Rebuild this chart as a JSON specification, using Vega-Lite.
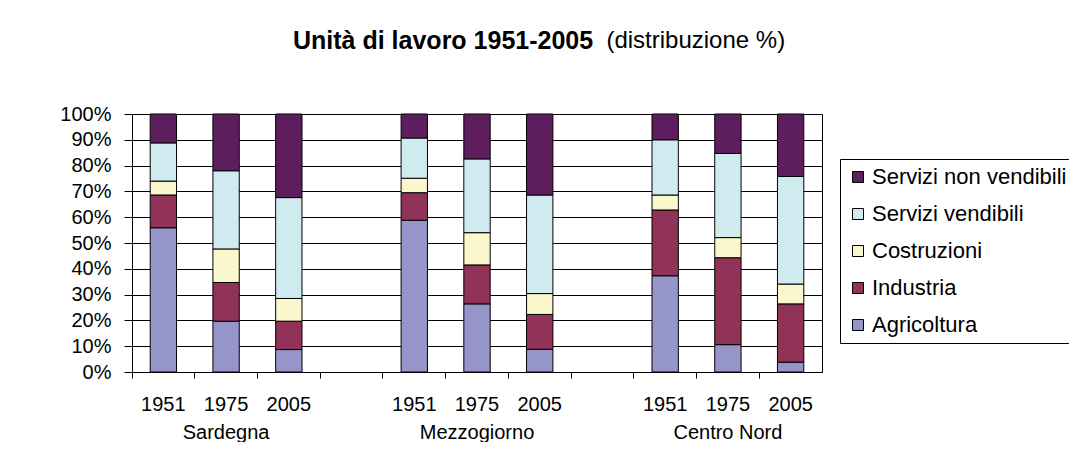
{
  "$schema": "https://vega.github.io/schema/vega-lite/v6.json",
  "width": 690,
  "height": 258,
  "padding": {"left": 59, "top": 29, "right": 0, "bottom": 0},
  "background": "white",
  "title": {
    "text": "Unità di lavoro 1951-2005",
    "subtitle": "\u200b\u00a0\u00a0\u00a0\u00a0\u00a0\u00a0\u00a0\u00a0\u00a0\u00a0\u00a0\u00a0\u00a0\u00a0\u00a0\u00a0\u00a0\u00a0\u00a0\u00a0\u00a0\u00a0\u00a0\u00a0\u00a0\u00a0\u00a0\u00a0\u00a0\u00a0\u00a0\u00a0\u00a0\u00a0\u00a0\u00a0\u00a0\u00a0\u00a0\u00a0\u00a0\u00a0\u00a0\u00a0\u00a0\u00a0\u00a0(distribuzione %)",
    "anchor": "start",
    "frame": "group",
    "dx": 161,
    "offset": 50,
    "font": "Liberation Sans",
    "fontSize": 25,
    "fontWeight": "bold",
    "color": "#000000",
    "subtitleFont": "Liberation Sans",
    "subtitleFontSize": 24,
    "subtitleFontWeight": "normal",
    "subtitleColor": "#000000",
    "subtitlePadding": -25
  },
  "data": {
    "values": [
      {"regione": "Sardegna", "anno": "1951", "settore": "Agricoltura", "valore": 55.9},
      {"regione": "Sardegna", "anno": "1951", "settore": "Industria", "valore": 12.7},
      {"regione": "Sardegna", "anno": "1951", "settore": "Costruzioni", "valore": 5.4},
      {"regione": "Sardegna", "anno": "1951", "settore": "Servizi vendibili", "valore": 14.8},
      {"regione": "Sardegna", "anno": "1951", "settore": "Servizi non vendibili", "valore": 11.2},
      {"regione": "Sardegna", "anno": "1975", "settore": "Agricoltura", "valore": 19.7},
      {"regione": "Sardegna", "anno": "1975", "settore": "Industria", "valore": 15.0},
      {"regione": "Sardegna", "anno": "1975", "settore": "Costruzioni", "valore": 13.0},
      {"regione": "Sardegna", "anno": "1975", "settore": "Servizi vendibili", "valore": 30.3},
      {"regione": "Sardegna", "anno": "1975", "settore": "Servizi non vendibili", "valore": 22.0},
      {"regione": "Sardegna", "anno": "2005", "settore": "Agricoltura", "valore": 8.7},
      {"regione": "Sardegna", "anno": "2005", "settore": "Industria", "valore": 11.0},
      {"regione": "Sardegna", "anno": "2005", "settore": "Costruzioni", "valore": 8.8},
      {"regione": "Sardegna", "anno": "2005", "settore": "Servizi vendibili", "valore": 39.1},
      {"regione": "Sardegna", "anno": "2005", "settore": "Servizi non vendibili", "valore": 32.4},
      {"regione": "Mezzogiorno", "anno": "1951", "settore": "Agricoltura", "valore": 58.8},
      {"regione": "Mezzogiorno", "anno": "1951", "settore": "Industria", "valore": 10.7},
      {"regione": "Mezzogiorno", "anno": "1951", "settore": "Costruzioni", "valore": 5.6},
      {"regione": "Mezzogiorno", "anno": "1951", "settore": "Servizi vendibili", "valore": 15.6},
      {"regione": "Mezzogiorno", "anno": "1951", "settore": "Servizi non vendibili", "valore": 9.3},
      {"regione": "Mezzogiorno", "anno": "1975", "settore": "Agricoltura", "valore": 26.4},
      {"regione": "Mezzogiorno", "anno": "1975", "settore": "Industria", "valore": 15.1},
      {"regione": "Mezzogiorno", "anno": "1975", "settore": "Costruzioni", "valore": 12.5},
      {"regione": "Mezzogiorno", "anno": "1975", "settore": "Servizi vendibili", "valore": 28.6},
      {"regione": "Mezzogiorno", "anno": "1975", "settore": "Servizi non vendibili", "valore": 17.4},
      {"regione": "Mezzogiorno", "anno": "2005", "settore": "Agricoltura", "valore": 8.8},
      {"regione": "Mezzogiorno", "anno": "2005", "settore": "Industria", "valore": 13.5},
      {"regione": "Mezzogiorno", "anno": "2005", "settore": "Costruzioni", "valore": 8.1},
      {"regione": "Mezzogiorno", "anno": "2005", "settore": "Servizi vendibili", "valore": 38.2},
      {"regione": "Mezzogiorno", "anno": "2005", "settore": "Servizi non vendibili", "valore": 31.4},
      {"regione": "Centro Nord", "anno": "1951", "settore": "Agricoltura", "valore": 37.3},
      {"regione": "Centro Nord", "anno": "1951", "settore": "Industria", "valore": 25.5},
      {"regione": "Centro Nord", "anno": "1951", "settore": "Costruzioni", "valore": 5.8},
      {"regione": "Centro Nord", "anno": "1951", "settore": "Servizi vendibili", "valore": 21.4},
      {"regione": "Centro Nord", "anno": "1951", "settore": "Servizi non vendibili", "valore": 10.0},
      {"regione": "Centro Nord", "anno": "1975", "settore": "Agricoltura", "valore": 10.6},
      {"regione": "Centro Nord", "anno": "1975", "settore": "Industria", "valore": 33.7},
      {"regione": "Centro Nord", "anno": "1975", "settore": "Costruzioni", "valore": 7.8},
      {"regione": "Centro Nord", "anno": "1975", "settore": "Servizi vendibili", "valore": 32.6},
      {"regione": "Centro Nord", "anno": "1975", "settore": "Servizi non vendibili", "valore": 15.3},
      {"regione": "Centro Nord", "anno": "2005", "settore": "Agricoltura", "valore": 3.8},
      {"regione": "Centro Nord", "anno": "2005", "settore": "Industria", "valore": 22.6},
      {"regione": "Centro Nord", "anno": "2005", "settore": "Costruzioni", "valore": 7.7},
      {"regione": "Centro Nord", "anno": "2005", "settore": "Servizi vendibili", "valore": 41.7},
      {"regione": "Centro Nord", "anno": "2005", "settore": "Servizi non vendibili", "valore": 24.2}
    ]
  },
  "transform": [
    {"calculate": "datum.regione + ' ' + datum.anno", "as": "colonna"},
    {"calculate": "indexof(['Agricoltura','Industria','Costruzioni','Servizi vendibili','Servizi non vendibili'], datum.settore)", "as": "ordine"}
  ],
  "mark": {"type": "bar", "width": {"band": 0.42}, "stroke": "#000000", "strokeWidth": 1},
  "encoding": {
    "x": {
      "field": "colonna",
      "type": "nominal",
      "sort": null,
      "scale": {
        "domain": ["Sardegna 1951", "Sardegna 1975", "Sardegna 2005", "gap1", "Mezzogiorno 1951", "Mezzogiorno 1975", "Mezzogiorno 2005", "gap2", "Centro Nord 1951", "Centro Nord 1975", "Centro Nord 2005"],
        "paddingInner": 0,
        "paddingOuter": 0
      },
      "axis": {
        "title": null,
        "labelAngle": 0,
        "labelExpr": "slice(datum.value,0,3)=='gap' ? '' : (slice(datum.value,-4)=='1975' ? [slice(datum.value,-4), slice(datum.value,0,-5)] : slice(datum.value,-4))",
        "bandPosition": 0,
        "tickSize": 6,
        "tickColor": "#000000",
        "domainColor": "#000000",
        "labelPadding": 16,
        "labelLineHeight": 28,
        "labelFont": "Liberation Sans",
        "labelFontSize": 20,
        "labelColor": "#000000",
        "labelOverlap": false,
        "labelBound": false,
        "labelLimit": 300,
        "grid": false
      }
    },
    "y": {
      "field": "valore",
      "type": "quantitative",
      "stack": "normalize",
      "axis": {
        "title": null,
        "tickCount": 10,
        "labelExpr": "round(datum.value * 100) + '%'",
        "labelFont": "Liberation Sans",
        "labelFontSize": 20,
        "labelColor": "#000000",
        "labelPadding": 13,
        "tickSize": 8,
        "tickColor": "#000000",
        "domainColor": "#000000",
        "gridColor": "#000000",
        "gridOpacity": 1
      }
    },
    "color": {
      "field": "settore",
      "type": "nominal",
      "scale": {
        "domain": ["Servizi non vendibili", "Servizi vendibili", "Costruzioni", "Industria", "Agricoltura"],
        "range": ["#5E1E5E", "#CFEBF0", "#FAF7CC", "#913259", "#9595C9"]
      },
      "legend": {
        "title": null,
        "orient": "none",
        "legendX": 708,
        "legendY": 45,
        "strokeColor": "#000000",
        "fillColor": "#FFFFFF",
        "padding": 7,
        "symbolType": "square",
        "symbolSize": 121,
        "symbolStrokeColor": "#000000",
        "symbolStrokeWidth": 1,
        "labelFont": "Liberation Sans",
        "labelFontSize": 22,
        "labelColor": "#000000",
        "labelLimit": 300,
        "labelOffset": 3,
        "rowPadding": 15
      }
    },
    "order": {"field": "ordine", "type": "quantitative"}
  },
  "config": {
    "view": {"stroke": "#000000", "strokeWidth": 1},
    "font": "Liberation Sans"
  }
}
